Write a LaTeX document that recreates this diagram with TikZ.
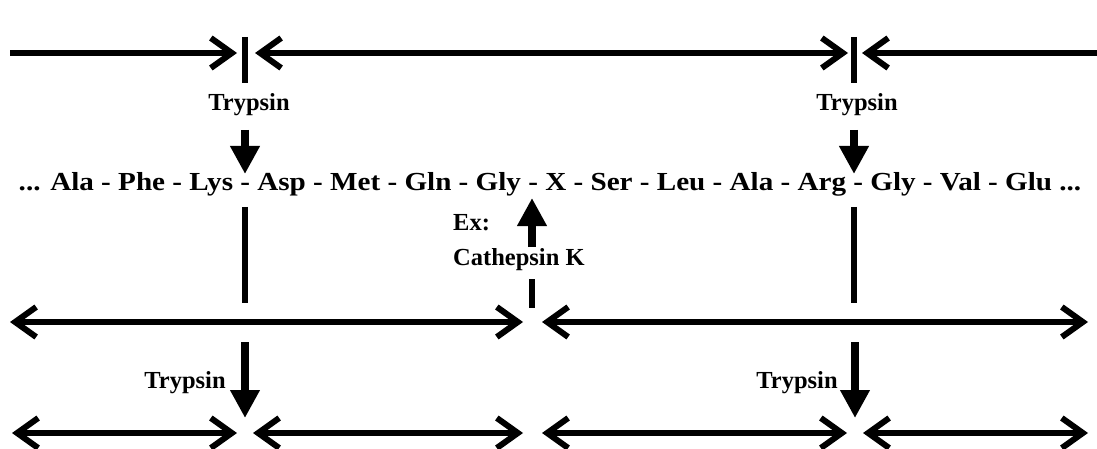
\documentclass[tikz,border=0pt]{standalone}
\usepackage{fontspec}
\setmainfont{Liberation Serif}
\usetikzlibrary{arrows.meta}
\tikzset{
  seg/.style={line width=6pt, {Straight Barb[length=21pt,width=30pt]}-{Straight Barb[length=21pt,width=30pt]}},
  segr/.style={line width=6pt, -{Straight Barb[length=21pt,width=30pt]}},
  bar/.style={line width=6pt},
  cut/.style={line width=7.5pt, -{Triangle[length=28pt,width=28pt]}},
  lbl/.style={font=\fontsize{24.5}{28}\selectfont\bfseries, inner sep=0pt},
}
\begin{document}
\begin{tikzpicture}[x=1pt,y=-1pt]
\useasboundingbox (0,0) rectangle (1097,449);
% sequence
\node[inner sep=0pt, anchor=base] (seq) at (550,190) {\scalebox{1.12}[1]{\fontsize{26}{30}\selectfont\bfseries ... Ala - Phe - Lys - Asp - Met - Gln - Gly - X - Ser - Leu - Ala - Arg - Gly - Val - Glu ...}};
% top row
\coordinate (t0) at (10,53);
\coordinate (t1) at (237,53);
\coordinate (t2) at (255,53);
\coordinate (t3) at (848,53);
\coordinate (t4) at (862,53);
\coordinate (t5) at (1097,53);
\draw[segr] (t0) -- (t1);
\draw[seg] (t2) -- (t3);
\draw[segr] (t5) -- (t4);
\coordinate (b1a) at (245,37); \coordinate (b1b) at (245,83);
\coordinate (b2a) at (854,37); \coordinate (b2b) at (854,83);
\draw[bar] (b1a) -- (b1b);
\draw[bar] (b2a) -- (b2b);
% top trypsin
\node[lbl] (tr1) at (249,105) {Trypsin};
\node[lbl] (tr2) at (857,105) {Trypsin};
\coordinate (a1s) at (245,130); \coordinate (a1e) at (245,174);
\coordinate (a2s) at (854,130); \coordinate (a2e) at (854,174);
\draw[cut] (a1s) -- (a1e);
\draw[cut] (a2s) -- (a2e);
% verticals below sequence
\coordinate (v1a) at (245,207); \coordinate (v1b) at (245,303);
\coordinate (v2a) at (854,207); \coordinate (v2b) at (854,303);
\draw[bar] (v1a) -- (v1b);
\draw[bar] (v2a) -- (v2b);
% cathepsin
\node[lbl, anchor=west] (ex) at (453,223) {Ex:};
\node[lbl, anchor=west] (cat) at (453,260) {Cathepsin K};
\coordinate (c1s) at (532,247); \coordinate (c1e) at (532,198);
\draw[cut] (c1s) -- (c1e);
\coordinate (c2a) at (532,279); \coordinate (c2b) at (532,308);
\draw[bar] (c2a) -- (c2b);
% second row
\coordinate (m0) at (10,322); \coordinate (m1) at (523,322);
\coordinate (m2) at (542,322); \coordinate (m3) at (1088,322);
\draw[seg] (m0) -- (m1);
\draw[seg] (m2) -- (m3);
% lower trypsin
\node[lbl] (tr3) at (185,383) {Trypsin};
\node[lbl] (tr4) at (797,383) {Trypsin};
\coordinate (d1s) at (245,342); \coordinate (d1e) at (245,418);
\coordinate (d2s) at (855,342); \coordinate (d2e) at (855,418);
\draw[cut] (d1s) -- (d1e);
\draw[cut] (d2s) -- (d2e);
% third row
\coordinate (r0) at (12,433); \coordinate (r1) at (237,433);
\coordinate (r2) at (253,433); \coordinate (r3) at (523,433);
\coordinate (r4) at (542,433); \coordinate (r5) at (847,433);
\coordinate (r6) at (863,433); \coordinate (r7) at (1088,433);
\draw[seg] (r0) -- (r1);
\draw[seg] (r2) -- (r3);
\draw[seg] (r4) -- (r5);
\draw[seg] (r6) -- (r7);
\end{tikzpicture}
\end{document}
